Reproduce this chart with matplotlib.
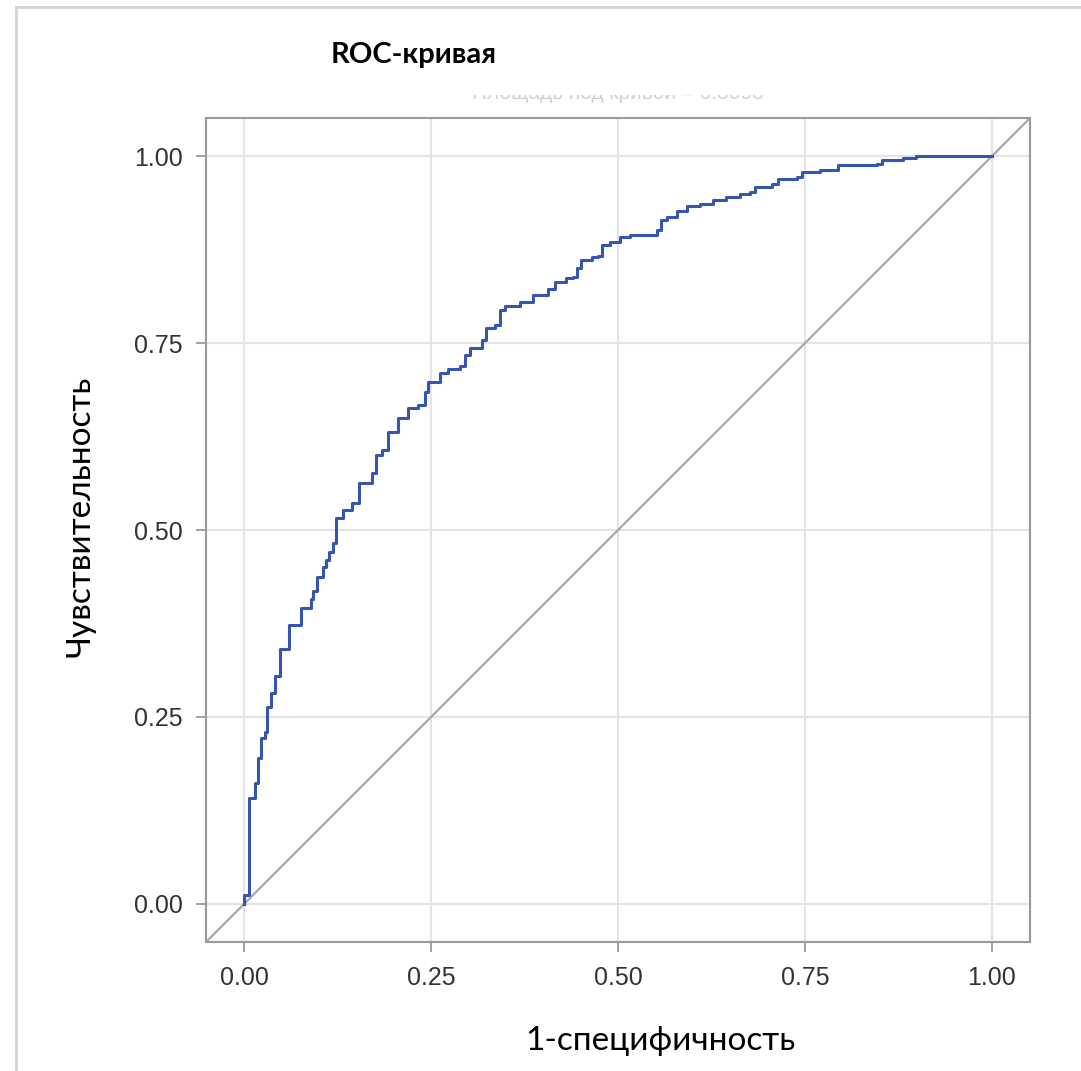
import matplotlib.pyplot as plt
from matplotlib.lines import Line2D
from matplotlib.patches import Rectangle

# точки ROC-кривой (1-специфичность, чувствительность)
fpr = [0.000, 0.000, 0.006, 0.014, 0.018, 0.023, 0.028, 0.030, 0.036, 0.041,
       0.048, 0.060, 0.076, 0.089, 0.092, 0.098, 0.105, 0.110, 0.114, 0.119,
       0.123, 0.132, 0.144, 0.153, 0.171, 0.176, 0.184, 0.193, 0.206, 0.219,
       0.233, 0.242, 0.246, 0.262, 0.273, 0.289, 0.295, 0.302, 0.318, 0.324,
       0.336, 0.342, 0.349, 0.369, 0.386, 0.406, 0.416, 0.431, 0.440, 0.445,
       0.451, 0.465, 0.473, 0.478, 0.489, 0.503, 0.516, 0.538, 0.552, 0.558,
       0.565, 0.579, 0.592, 0.610, 0.627, 0.645, 0.663, 0.677, 0.683, 0.706,
       0.714, 0.739, 0.746, 0.770, 0.794, 0.846, 0.853, 0.881, 0.899, 1.000]
tpr = [0.000, 0.012, 0.142, 0.162, 0.195, 0.222, 0.230, 0.263, 0.282, 0.305,
       0.341, 0.373, 0.396, 0.408, 0.418, 0.437, 0.450, 0.460, 0.470, 0.482,
       0.516, 0.527, 0.536, 0.563, 0.576, 0.600, 0.607, 0.631, 0.650, 0.663,
       0.667, 0.685, 0.698, 0.710, 0.716, 0.720, 0.734, 0.743, 0.754, 0.770,
       0.774, 0.794, 0.800, 0.805, 0.814, 0.823, 0.832, 0.837, 0.839, 0.850,
       0.861, 0.865, 0.867, 0.881, 0.885, 0.892, 0.894, 0.895, 0.901, 0.914,
       0.919, 0.926, 0.934, 0.936, 0.942, 0.946, 0.950, 0.952, 0.959, 0.963,
       0.970, 0.972, 0.979, 0.981, 0.988, 0.990, 0.995, 0.997, 1.000, 1.000]

ticks = [0.0, 0.25, 0.5, 0.75, 1.0]
tick_labels = ['0.00', '0.25', '0.50', '0.75', '1.00']

fig = plt.figure(figsize=(10.81, 10.71), dpi=100)
ax = fig.add_axes([0.1906, 0.1204, 0.7623, 0.7694])

lim = (-0.051, 1.051)
ax.plot(lim, lim, color='#a8a8a8', lw=1.6, zorder=2)
ax.plot(fpr, tpr, drawstyle='steps-post', color='#3655b0', lw=2.2, zorder=3)

ax.set_xlim(lim)
ax.set_ylim(lim)
ax.set_xticks(ticks, tick_labels)
ax.set_yticks(ticks, tick_labels)
ax.grid(True, color='#e4e4e4', lw=1.5)
ax.set_axisbelow(True)
for s in ax.spines.values():
    s.set_color('#9a9a9a')
    s.set_linewidth(1.5)
ax.tick_params(direction='out', length=7, width=1.3, color='#9a9a9a',
               labelsize=18, labelcolor='#333333', pad=10)
for lab in ax.get_xticklabels() + ax.get_yticklabels():
    lab.set_family('Liberation Sans')

ax.set_xlabel('1-специфичность', family='Lato', fontsize=24)
ax.set_ylabel('Чувствительность', family='Lato', fontsize=24)
ax.xaxis.set_label_coords(0.552, -0.102)
ax.yaxis.set_label_coords(-0.134, 0.517)

fig.text(0.383, 0.949, 'ROC-кривая', family='Lato', fontweight='bold',
         fontsize=21, ha='center', va='center')

# полузакрытая подпись под заголовком
fig.text(0.572, 0.913, 'Площадь под кривой = 0.8093', family='Liberation Sans',
         fontsize=15, color='#d0d0d0', ha='center', va='center', zorder=1)
fig.patches.append(Rectangle((0.35, 0.9115), 0.5, 0.016, transform=fig.transFigure,
                             facecolor='white', edgecolor='none', zorder=5))

# рамка скриншота
fig.lines.append(Line2D([0.0148, 1.0], [0.9935, 0.9935], transform=fig.transFigure,
                        color='#d4d4d4', lw=2))
fig.lines.append(Line2D([0.0148, 0.0148], [0.0, 0.9935], transform=fig.transFigure,
                        color='#d4d4d4', lw=2))

fig.savefig('out.png', dpi=100)
